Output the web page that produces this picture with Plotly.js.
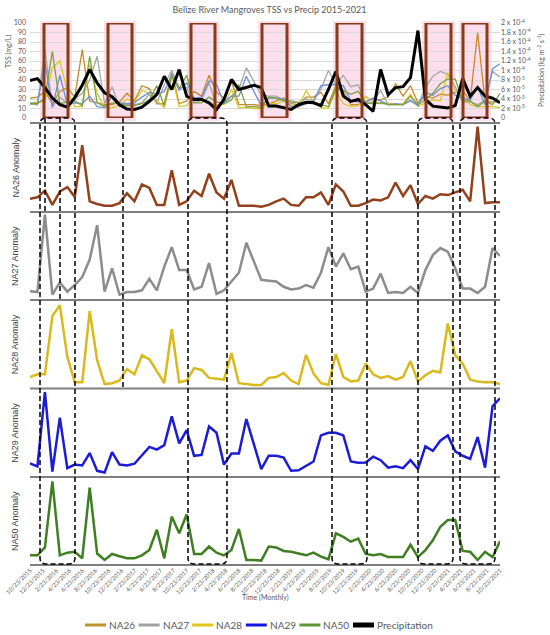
<!DOCTYPE html>
<html>
<head>
<meta charset="utf-8">
<script src="https://cdn.plot.ly/plotly-3.0.1.min.js"></script>
<style>
html, body { margin: 0; padding: 0; background: #fff; }
#chart { width: 550px; height: 635px; }
</style>
</head>
<body>
<div id="chart"></div>
<script>
// sampling window
const startDate = '2015-10-23';
const endDate = '2021-10-23';
const sampleCount = 64;

// x tick labels (every two months)
const tickLabels = [
    '10/23/2015', '12/23/2015', '2/23/2016', '4/23/2016', '6/23/2016', '8/23/2016',
    '10/23/2016', '12/23/2016', '2/23/2017', '4/23/2017', '6/23/2017', '8/23/2017',
    '10/23/2017', '12/23/2017', '2/23/2018', '4/23/2018', '6/23/2018', '8/23/2018',
    '10/23/2018', '12/23/2018', '2/23/2019', '4/23/2019', '6/23/2019', '8/23/2019',
    '10/23/2019', '12/23/2019', '2/23/2020', '4/23/2020', '6/23/2020', '8/23/2020',
    '10/23/2020', '12/23/2020', '2/23/2021', '4/23/2021', '6/23/2021', '8/23/2021',
    '10/23/2021'
];

// top panel: TSS (mg/L)
const tssNA26 = [21,22,28,15,28,32,22,72,18,16,14,14,17,26,18,34,31,15,15,48,15,18,28,23,45,27,21,39,14,14,14,13,15,18,21,15,14,22,22,27,15,34,28,14,14,17,20,19,22,36,23,34,16,23,21,25,24,27,29,18,90,17,17,17];
const tssNA27 = [15,14,72,12,22,15,20,26,40,65,15,33,12,14,14,16,25,16,35,50,32,32,16,19,37,13,16,23,30,53,39,24,23,23,19,16,17,20,18,30,50,35,45,33,35,15,17,29,14,14,14,19,14,32,44,49,46,33,17,17,14,19,49,43];
const tssNA28 = [15,17,17,53,60,28,12,12,56,26,11,11,13,20,17,29,26,19,11,45,12,13,21,20,15,14,14,30,11,11,10,10,15,15,18,13,11,29,17,11,10,29,15,12,13,23,17,15,16,14,15,25,12,16,19,18,48,29,23,14,12,12,12,11];
const tssNA29 = [16,15,58,11,45,14,16,15,23,12,11,23,16,15,16,22,27,25,28,46,29,37,21,22,39,35,16,23,23,44,28,13,21,21,20,12,12,15,18,34,35,35,34,18,17,17,21,18,14,15,14,18,13,27,24,31,34,24,21,19,33,14,52,57];
const tssNA50 = [15,15,21,70,15,17,18,13,65,16,12,16,15,13,13,15,19,34,13,44,31,45,16,16,22,17,15,19,35,12,12,11,22,21,18,18,16,15,17,14,12,31,29,25,28,16,15,16,14,14,14,23,14,19,26,36,41,41,18,18,12,18,14,26];

// precipitation, in units of 1e-5 kg m-2 s-1
const precipE5 = [7.9,8.3,6.4,4.2,2.8,2.3,4.3,6.9,10.2,7.4,5.3,4.5,2.8,1.9,1.8,2.3,3.5,4.9,8.8,6.0,10.2,4.6,3.9,3.9,3.2,1.8,3.9,8.1,6.0,6.4,6.9,6.4,2.5,2.5,2.1,1.8,2.8,3.3,3.2,2.6,6.0,9.8,4.6,3.5,3.9,2.8,1.4,10.2,4.9,6.4,6.6,8.5,18.4,3.9,2.5,2.3,2.1,2.6,8.3,4.6,6.4,4.6,4.2,3.2];

// anomaly panels (relative units)
const anomNA26 = [0.15,0.165,0.24,0.08,0.23,0.28,0.17,0.75,0.12,0.09,0.07,0.07,0.10,0.21,0.12,0.31,0.27,0.08,0.08,0.47,0.08,0.12,0.24,0.18,0.43,0.22,0.15,0.36,0.07,0.07,0.07,0.06,0.08,0.12,0.15,0.08,0.07,0.165,0.165,0.22,0.08,0.31,0.23,0.07,0.07,0.10,0.14,0.13,0.165,0.33,0.18,0.30,0.09,0.18,0.15,0.20,0.19,0.22,0.25,0.12,0.96,0.10,0.11,0.11];
const anomNA27 = [0.10,0.09,0.97,0.06,0.20,0.095,0.17,0.26,0.46,0.85,0.095,0.36,0.06,0.09,0.09,0.11,0.24,0.11,0.38,0.60,0.34,0.34,0.12,0.15,0.42,0.07,0.11,0.21,0.31,0.65,0.44,0.23,0.22,0.21,0.15,0.12,0.13,0.17,0.14,0.31,0.60,0.38,0.53,0.35,0.38,0.095,0.13,0.30,0.08,0.09,0.08,0.15,0.08,0.34,0.51,0.59,0.55,0.36,0.13,0.13,0.08,0.15,0.59,0.50];
const anomNA28 = [0.13,0.16,0.16,0.82,0.94,0.36,0.07,0.07,0.875,0.32,0.05,0.06,0.09,0.22,0.16,0.375,0.33,0.20,0.06,0.67,0.07,0.09,0.23,0.21,0.12,0.11,0.10,0.40,0.06,0.05,0.04,0.04,0.12,0.13,0.175,0.09,0.05,0.38,0.17,0.06,0.04,0.39,0.13,0.08,0.09,0.28,0.16,0.12,0.14,0.10,0.13,0.31,0.08,0.15,0.20,0.18,0.735,0.375,0.28,0.10,0.08,0.07,0.07,0.05];
const anomNA29 = [0.155,0.12,0.96,0.06,0.67,0.10,0.14,0.13,0.27,0.07,0.05,0.28,0.14,0.13,0.15,0.25,0.34,0.31,0.36,0.685,0.38,0.53,0.24,0.25,0.57,0.50,0.14,0.265,0.265,0.655,0.36,0.09,0.24,0.24,0.22,0.07,0.075,0.13,0.175,0.47,0.50,0.50,0.47,0.175,0.16,0.165,0.23,0.19,0.105,0.12,0.10,0.19,0.09,0.345,0.295,0.41,0.47,0.29,0.24,0.205,0.45,0.105,0.80,0.89];
const anomNA50 = [0.11,0.11,0.2,0.95,0.11,0.14,0.15,0.076,0.88,0.13,0.057,0.125,0.10,0.076,0.076,0.11,0.17,0.40,0.076,0.55,0.36,0.575,0.125,0.125,0.21,0.14,0.11,0.17,0.41,0.057,0.057,0.05,0.21,0.20,0.16,0.15,0.13,0.11,0.14,0.095,0.065,0.36,0.32,0.265,0.30,0.125,0.11,0.125,0.09,0.09,0.09,0.23,0.09,0.17,0.28,0.435,0.51,0.51,0.16,0.15,0.057,0.15,0.09,0.27];

// precipitation axis ticks
const precipTickVals = [0, 2e-5, 4e-5, 6e-5, 8e-5, 1e-4, 1.2e-4, 1.4e-4, 1.6e-4, 1.8e-4, 2e-4];
const precipTickText = ['0', '2 x 10<sup>-5</sup>', '4 x 10<sup>-5</sup>', '6 x 10<sup>-5</sup>', '8 x 10<sup>-5</sup>',
    '1 x 10<sup>-4</sup>', '1.2 x 10<sup>-4</sup>', '1.4 x 10<sup>-4</sup>', '1.6 x 10<sup>-4</sup>',
    '1.8 x 10<sup>-4</sup>', '2 x 10<sup>-4</sup>'];

// legend entries
const legendNames = ['NA26', 'NA27', 'NA28', 'NA29', 'NA50', 'Precipitation'];
const legendColors = ['#c0902f', '#a0a0a0', '#e2c41a', '#1414e0', '#5f9636', '#000000'];

const parseMDY = s => {
    const [m, d, y] = s.split('/').map(Number);
    return Date.UTC(y, m - 1, d);
};
const t0 = Date.parse(startDate);
const t1 = Date.parse(endDate);
const dates = Array.from({ length: sampleCount }, (_, i) => t0 + i * (t1 - t0) / (sampleCount - 1));
const precip = precipE5.map(v => v * 1e-5);

// pixel helpers for the page layout
const PLOT_LEFT = 30, PLOT_RIGHT = 500, PLOT_TOP = 23, PLOT_BOTTOM = 565;
const px = p => (p - PLOT_LEFT) / (PLOT_RIGHT - PLOT_LEFT);
const py = p => (PLOT_BOTTOM - p) / (PLOT_BOTTOM - PLOT_TOP);

const panelEdges = [123, 212, 300, 388.5, 477, 565];
const panelNames = ['NA26', 'NA27', 'NA28', 'NA29', 'NA50'];
const panelColors = ['#93401d', '#8c8c8c', '#d9b91c', '#1c1cd6', '#3f7f22'];
const panelData = [anomNA26, anomNA27, anomNA28, anomNA29, anomNA50];

const topColors = { NA26: '#c8882c', NA27: '#a6a6a6', NA28: '#d8c82a', NA29: '#6f90d6', NA50: '#7aa03e' };

const traces = [];
const tssSeries = { NA26: tssNA26, NA27: tssNA27, NA28: tssNA28, NA29: tssNA29, NA50: tssNA50 };
Object.keys(tssSeries).forEach(name => {
    traces.push({
        x: dates, y: tssSeries[name], xaxis: 'x', yaxis: 'y', name: name,
        type: 'scatter', mode: 'lines',
        line: { color: topColors[name], width: 1.3 }
    });
});
traces.push({
    x: dates, y: precip, xaxis: 'x', yaxis: 'y7', name: 'Precipitation',
    type: 'scatter', mode: 'lines',
    line: { color: '#000000', width: 3 }
});

panelData.forEach((vals, i) => {
    traces.push({
        x: dates, y: vals, xaxis: 'x', yaxis: 'y' + (i + 2), name: panelNames[i] + ' Anomaly',
        type: 'scatter', mode: 'lines',
        line: { color: panelColors[i], width: 2.5 }
    });
});

const shapes = [];
const annotations = [];

// pink highlight + brown boxes in the TSS panel
const highlightBoxes = [[44, 68], [108, 132], [191, 215], [262, 287], [337, 362], [426, 451], [463, 487]];
highlightBoxes.forEach(([a, b]) => {
    shapes.push({
        type: 'rect', xref: 'paper', yref: 'paper', layer: 'below',
        x0: px(a - 4), x1: px(b + 4), y0: py(121), y1: py(21),
        fillcolor: 'rgba(250,200,225,0.6)', line: { width: 0 }
    });
    shapes.push({
        type: 'rect', xref: 'paper', yref: 'y', layer: 'above',
        x0: px(a), x1: px(b), y0: 0, y1: 100,
        line: { color: '#8b3a16', width: 3 }
    });
});

// panel separators
panelEdges.forEach(e => {
    shapes.push({
        type: 'line', xref: 'paper', yref: 'paper',
        x0: 0, x1: 1, y0: py(e), y1: py(e),
        line: { color: '#7f7f7f', width: 2 }
    });
});

// dashed rounded windows
const dashedBoxes = [[40, 75], [188, 227], [332, 367], [418, 453], [460, 495]];
const boxTop = 118, boxBottom = 564, r = 6;
dashedBoxes.forEach(([a, b]) => {
    const P = (x, y) => px(x) + ',' + py(y);
    const path = 'M' + P(a, boxTop + r) + ' L' + P(a, boxBottom - r) +
        ' Q' + P(a, boxBottom) + ' ' + P(a + r, boxBottom) +
        ' L' + P(b - r, boxBottom) +
        ' Q' + P(b, boxBottom) + ' ' + P(b, boxBottom - r) +
        ' L' + P(b, boxTop + r) +
        ' Q' + P(b, boxTop) + ' ' + P(b - r, boxTop) +
        ' L' + P(a + r, boxTop) +
        ' Q' + P(a, boxTop) + ' ' + P(a, boxTop + r) + ' Z';
    shapes.push({
        type: 'path', xref: 'paper', yref: 'paper', path: path, layer: 'above',
        line: { color: '#000000', width: 1.5, dash: '5px,3px' }
    });
});
const dashedLines = [[45, 118, 212], [60, 118, 300], [123, 118, 389]];
dashedLines.forEach(([x, y0, y1]) => {
    shapes.push({
        type: 'line', xref: 'paper', yref: 'paper', layer: 'above',
        x0: px(x), x1: px(x), y0: py(y0), y1: py(y1),
        line: { color: '#000000', width: 1.5, dash: '5px,3px' }
    });
});

// panel titles
panelNames.forEach((name, i) => {
    annotations.push({
        text: name + ' Anomaly', xref: 'paper', yref: 'paper',
        x: px(15), y: py((panelEdges[i] + panelEdges[i + 1]) / 2),
        textangle: -90, showarrow: false, xanchor: 'center', yanchor: 'middle',
        font: { family: 'Liberation Sans, Arial, sans-serif', size: 9, color: '#404040' }
    });
});
annotations.push({
    text: 'TSS (mg/L)', xref: 'paper', yref: 'paper', x: px(8), y: py(52),
    textangle: -90, showarrow: false, xanchor: 'center', yanchor: 'middle',
    font: { family: 'Lato, sans-serif', size: 7, color: '#595959' }
});
annotations.push({
    text: 'Precipitation (kg m<sup>-2</sup> s<sup>-1</sup>)', xref: 'paper', yref: 'paper',
    x: px(541), y: py(70), textangle: -90, showarrow: false,
    xanchor: 'center', yanchor: 'middle',
    font: { family: 'Lato, sans-serif', size: 7, color: '#595959' }
});
annotations.push({
    text: 'Time (Monthly)', xref: 'paper', yref: 'paper', x: px(265), y: py(597),
    showarrow: false, xanchor: 'center', yanchor: 'middle',
    font: { family: 'Lato, sans-serif', size: 7, color: '#595959' }
});

// hand-placed legend row
const legendLeft = 85, legendStep = 53.6, legendY = 625;
legendNames.forEach((name, i) => {
    const x = legendLeft + i * legendStep;
    shapes.push({
        type: 'line', xref: 'paper', yref: 'paper',
        x0: px(x), x1: px(x + 21), y0: py(legendY), y1: py(legendY),
        line: { color: legendColors[i], width: name === 'Precipitation' ? 5 : 3 }
    });
    annotations.push({
        text: name, xref: 'paper', yref: 'paper', x: px(x + 22), y: py(legendY),
        showarrow: false, xanchor: 'left', yanchor: 'middle',
        font: { family: 'Lato, sans-serif', size: 10, color: '#595959' }
    });
});

const hiddenAxis = domain => ({
    domain: domain, range: [0, 1], showticklabels: false, showgrid: false,
    zeroline: false, showline: false, ticks: '', fixedrange: true
});

const layout = {
    width: 550,
    height: 635,
    margin: { l: PLOT_LEFT, r: 550 - PLOT_RIGHT, t: PLOT_TOP, b: 635 - PLOT_BOTTOM },
    paper_bgcolor: '#ffffff',
    plot_bgcolor: 'rgba(0,0,0,0)',
    showlegend: false,
    title: {
        text: 'Belize River Mangroves TSS vs Precip 2015-2021',
        x: 0.49, y: 0.985, xanchor: 'center', yanchor: 'middle',
        font: { family: 'Lato, sans-serif', size: 9, color: '#595959' }
    },
    xaxis: {
        type: 'date', range: [t0, t1], anchor: 'y6', domain: [0, 1], automargin: false,
        tickvals: tickLabels.map(parseMDY), ticktext: tickLabels,
        tickangle: -45, ticks: '', showgrid: false, zeroline: false, showline: false,
        tickfont: { family: 'Lato, sans-serif', size: 6, color: '#595959' }
    },
    yaxis: {
        domain: [py(118), py(23)], range: [0, 100], automargin: false,
        tickvals: [0, 10, 20, 30, 40, 50, 60, 70, 80, 90, 100],
        showgrid: true, gridcolor: '#d9d9d9', gridwidth: 1, zeroline: false,
        showline: false, ticks: '', ticklabelstandoff: 3,
        tickfont: { family: 'Lato, sans-serif', size: 7, color: '#595959' }
    },
    yaxis2: hiddenAxis([py(212), py(123)]),
    yaxis3: hiddenAxis([py(300), py(212)]),
    yaxis4: hiddenAxis([py(388.5), py(300)]),
    yaxis5: hiddenAxis([py(477), py(388.5)]),
    yaxis6: hiddenAxis([py(565), py(477)]),
    yaxis7: {
        overlaying: 'y', side: 'right', range: [0, 2e-4], automargin: false,
        tickvals: precipTickVals, ticktext: precipTickText,
        showgrid: false, zeroline: false, showline: false, ticks: '',
        tickfont: { family: 'Lato, sans-serif', size: 7, color: '#595959' }
    },
    shapes: shapes,
    annotations: annotations
};

Plotly.newPlot('chart', traces, layout, { displayModeBar: false, staticPlot: true });
</script>
</body>
</html>
